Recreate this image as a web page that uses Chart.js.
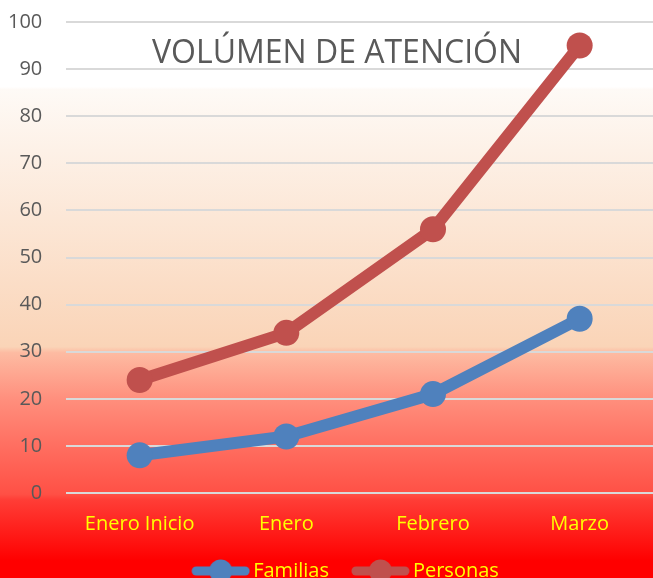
<!DOCTYPE html>
<html>
<head>
<meta charset="utf-8">
<script src="https://cdn.jsdelivr.net/npm/chart.js@4"></script>
<style>
  html, body { margin: 0; padding: 0; background: #fff; }
  #wrap { width: 653px; height: 578px; position: relative; overflow: hidden; }
</style>
</head>
<body>
<div id="wrap"><canvas id="grafico"></canvas></div>
<script>
// datos
const categorias = ["Enero Inicio", "Enero", "Febrero", "Marzo"];
const familias = [8, 12, 21, 37];
const personas = [24, 34, 56, 95];
const ticksY = [0, 10, 20, 30, 40, 50, 60, 70, 80, 90, 100];
const titulo = "VOLÚMEN DE ATENCIÓN";

const FUENTE = "'Open Sans', 'Noto Sans', sans-serif";
const AZUL = "#4f81bd";
const ROJO = "#c0504d";

// simbolo de leyenda: linea con circulo (80px, dibujado a la derecha)
function simbolo(color) {
  const c = document.createElement("canvas");
  c.width = 80; c.height = 26;
  const g = c.getContext("2d");
  g.strokeStyle = color;
  g.lineWidth = 9;
  g.lineCap = "round";
  g.beginPath();
  g.moveTo(26, 13); g.lineTo(75, 13);
  g.stroke();
  g.fillStyle = color;
  g.beginPath();
  g.arc(50.5, 13, 11.5, 0, Math.PI * 2);
  g.fill();
  return c;
}

// fondo degradado
const fondo = {
  id: "fondo",
  beforeDraw(chart) {
    const { ctx, width, height } = chart;
    const gr = ctx.createLinearGradient(0, 0, 0, height);
    gr.addColorStop(0, "#ffffff");
    gr.addColorStop(0.15, "#ffffff");
    gr.addColorStop(0.155, "#fefaf6");
    gr.addColorStop(0.6, "#fad4b7");
    gr.addColorStop(0.61, "#fdbba2");
    gr.addColorStop(0.69, "#ff8f7d");
    gr.addColorStop(0.77, "#ff6f61");
    gr.addColorStop(0.855, "#ff5045");
    gr.addColorStop(0.865, "#ff3d36");
    gr.addColorStop(0.97, "#ff0000");
    gr.addColorStop(1, "#ff0000");
    ctx.save();
    ctx.fillStyle = gr;
    ctx.fillRect(0, 0, width, height);
    ctx.restore();
  }
};

// titulo dentro del area
const tituloPlugin = {
  id: "tituloDentro",
  afterDatasetsDraw(chart) {
    const { ctx } = chart;
    ctx.save();
    ctx.font = "32px " + FUENTE;
    ctx.fillStyle = "#595959";
    ctx.textAlign = "center";
    ctx.textBaseline = "alphabetic";
    ctx.fillText(titulo, 337, 63);
    ctx.restore();
  }
};

// mover la leyenda un poco a la derecha
const moverLeyenda = {
  id: "moverLeyenda",
  afterLayout(chart) {
    if (!chart.legend) return;
    chart.legend.left += 18;
    chart.legend.right += 18;
  }
};

new Chart(document.getElementById("grafico"), {
  type: "line",
  data: {
    labels: categorias,
    datasets: [
      {
        label: "Familias",
        data: familias,
        borderColor: AZUL,
        backgroundColor: AZUL,
        borderWidth: 12,
        pointRadius: 13,
        pointHoverRadius: 13,
        pointBorderWidth: 0,
        fill: false,
        clip: false
      },
      {
        label: "Personas",
        data: personas,
        borderColor: ROJO,
        backgroundColor: ROJO,
        borderWidth: 12,
        pointRadius: 13,
        pointHoverRadius: 13,
        pointBorderWidth: 0,
        fill: false,
        clip: false
      }
    ]
  },
  options: {
    responsive: true,
    maintainAspectRatio: false,
    animation: false,
    layout: { autoPadding: false, padding: { top: 22, left: -16, right: -3, bottom: -13 } },
    plugins: {
      title: { display: false },
      tooltip: { enabled: false },
      legend: {
        position: "bottom",
        labels: {
          color: "#ffff00",
          font: { family: FUENTE, size: 20 },
          padding: 8,
          usePointStyle: true,
          pointStyleWidth: 66,
          generateLabels(chart) {
            return chart.data.datasets.map((d, i) => ({
              text: d.label,
              fontColor: "#ffff00",
              pointStyle: simbolo(d.borderColor),
              fillStyle: d.borderColor,
              strokeStyle: d.borderColor,
              lineWidth: 0,
              hidden: false,
              datasetIndex: i
            }));
          }
        }
      }
    },
    scales: {
      x: {
        offset: true,
        grid: { display: false, drawTicks: false },
        border: { display: false },
        ticks: {
          color: "#ffff00",
          font: { family: FUENTE, size: 20 },
          padding: 19
        },
        afterFit(axis) {
          axis.paddingLeft = 0;
          axis.paddingRight = 0;
          axis.height = 60;
        }
      },
      y: {
        min: 0,
        max: 100,
        afterBuildTicks(axis) {
          axis.ticks = ticksY.map(v => ({ value: v }));
        },
        grid: { color: "#d9d9d9", lineWidth: 2, drawTicks: false },
        border: { display: false },
        ticks: {
          color: "#595959",
          font: { family: FUENTE, size: 20 },
          padding: 24
        },
        afterFit(axis) {
          axis.paddingTop = 0;
          axis.paddingBottom = 0;
        }
      }
    }
  },
  plugins: [fondo, tituloPlugin, moverLeyenda]
});
</script>
</body>
</html>
